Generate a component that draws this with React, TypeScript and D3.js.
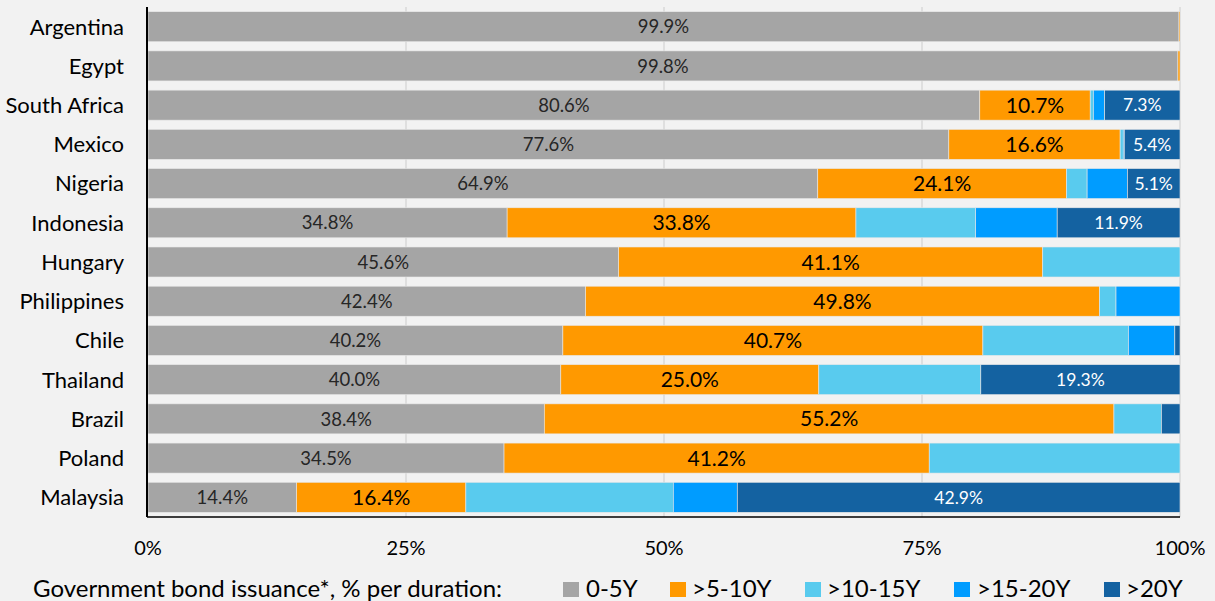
import React from "react";
import * as d3 from "d3";

const countries = ["Argentina","Egypt","South Africa","Mexico","Nigeria","Indonesia","Hungary","Philippines","Chile","Thailand","Brazil","Poland","Malaysia"];
const y0to5 =   [99.9, 99.8, 80.6, 77.6, 64.9, 34.8, 45.6, 42.4, 40.2, 40.0, 38.4, 34.5, 14.4];
const y5to10 =  [0.1, 0.2, 10.7, 16.6, 24.1, 33.8, 41.1, 49.8, 40.7, 25.0, 55.2, 41.2, 16.4];
const y10to15 = [0, 0, 0.3, 0.3, 2.0, 11.6, 13.3, 1.6, 14.1, 15.7, 4.6, 24.3, 20.1];
const y15to20 = [0, 0, 1.1, 0.1, 3.9, 7.9, 0, 6.2, 4.5, 0, 0, 0, 6.2];
const y20plus = [0, 0, 7.3, 5.4, 5.1, 11.9, 0, 0, 0.5, 19.3, 1.8, 0, 42.9];
const seriesNames = ["0-5Y", ">5-10Y", ">10-15Y", ">15-20Y", ">20Y"];
const xTicks = [0, 25, 50, 75, 100];
const legendTitle = "Government bond issuance*, % per duration:";

const colors = ["#a5a5a5", "#ff9900", "#59cbee", "#009cff", "#1462a1"];
const FONT = "Lato, 'Open Sans', sans-serif";

export default function App() {
  const W = 1215, H = 601;
  const left = 148, right = 1180, top = 7, bottom = 517;
  const x = d3.scaleLinear().domain([0, 100]).range([left, right]);
  const y = d3.scaleBand().domain(countries).range([top, bottom]).paddingInner(0.235).paddingOuter(0.12);
  const seriesData = [y0to5, y5to10, y10to15, y15to20, y20plus];
  const rows = countries.map((c, i) => {
    const o: any = { country: c };
    seriesNames.forEach((s, k) => (o[s] = seriesData[k][i]));
    return o;
  });
  const stacked = d3.stack().keys(seriesNames)(rows);

  const labelFor = (k: number, v: number) => {
    if (k === 0) return true;
    if (k === 1) return v >= 10;
    if (k === 4) return v >= 5;
    return false;
  };
  const labelStyle = [
    { size: 18.5, fill: "#262626" },
    { size: 21, fill: "#000" },
    null, null,
    { size: 17.5, fill: "#fff" },
  ];

  const legendItems = [
    { sx: 563, tx: 586 },
    { sx: 670, tx: 692 },
    { sx: 805, tx: 827 },
    { sx: 954, tx: 977 },
    { sx: 1104, tx: 1126 },
  ];

  return (
    <svg width={W} height={H} style={{ position: "absolute", left: 0, top: 0, fontFamily: FONT }}>
      <rect x={0} y={0} width={W} height={H} fill="#f2f2f2" />
      {xTicks.slice(1).map((t) => (
        <line key={t} x1={x(t)} x2={x(t)} y1={top} y2={bottom} stroke="#d9d9d9" strokeWidth={1.5} />
      ))}
      {stacked.map((s, k) => (
        <g key={s.key}>
          {s.map((d, i) => {
            const w = x(d[1]) - x(d[0]);
            if (w <= 0) return null;
            return (
              <rect key={i} x={x(d[0])} y={y(countries[i])} width={w} height={y.bandwidth()} fill={colors[k]} stroke="#e8e8e8" strokeWidth={0.6} />
            );
          })}
        </g>
      ))}
      {stacked.map((s, k) => (
        <g key={"l" + s.key}>
          {s.map((d, i) => {
            const v = seriesData[k][i];
            const st = labelStyle[k];
            if (!st || !labelFor(k, v)) return null;
            return (
              <text key={i} x={(x(d[0]) + x(d[1])) / 2} y={(y(countries[i]) as number) + y.bandwidth() / 2} dy="0.36em" textAnchor="middle" fontSize={st.size} fill={st.fill}>
                {v.toFixed(1) + "%"}
              </text>
            );
          })}
        </g>
      ))}
      <line x1={left - 1} x2={left - 1} y1={top} y2={bottom} stroke="#000" strokeWidth={2} />
      <line x1={left - 1} x2={right} y1={bottom} y2={bottom} stroke="#000" strokeWidth={1.5} />
      {countries.map((c) => (
        <text key={c} x={124} y={(y(c) as number) + y.bandwidth() / 2} dy="0.36em" textAnchor="end" fontSize={22} fill="#000">
          {c}
        </text>
      ))}
      {xTicks.map((t) => (
        <text key={t} x={x(t)} y={555} textAnchor="middle" fontSize={20} fill="#000">
          {t + "%"}
        </text>
      ))}
      <text x={33} y={597} fontSize={24} fill="#000">{legendTitle}</text>
      {seriesNames.map((n, k) => (
        <g key={n}>
          <rect x={legendItems[k].sx} y={582} width={16} height={15} fill={colors[k]} />
          <text x={legendItems[k].tx} y={597} fontSize={24} fill="#000">{n}</text>
        </g>
      ))}
    </svg>
  );
}
